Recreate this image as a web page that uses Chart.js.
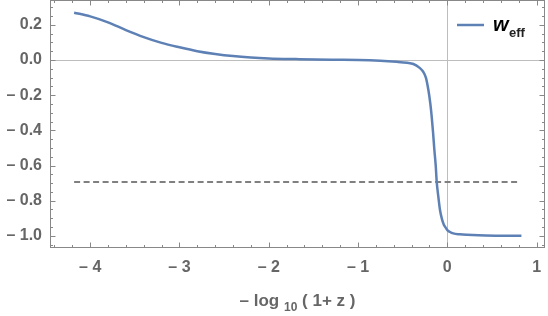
<!DOCTYPE html>
<html>
<head>
<meta charset="utf-8">
<script src="https://cdn.jsdelivr.net/npm/chart.js@4"></script>
<style>
html, body { margin: 0; padding: 0; background: #fff; }
#wrap { width: 548px; height: 316px; }
</style>
</head>
<body>
<div id="wrap"><canvas id="chart"></canvas></div>
<script>
// w_eff curve
const curveX = [-4.18, -4.0, -3.8, -3.6, -3.4, -3.2, -3.0, -2.8, -2.6, -2.4, -2.2, -2.0, -1.7, -1.3, -1.0,
    -0.75, -0.57, -0.45, -0.38, -0.31, -0.27, -0.24, -0.212, -0.19, -0.175, -0.16, -0.145, -0.13, -0.119,
    -0.1, -0.082, -0.06, -0.04, -0.026, 0.0, 0.03, 0.067, 0.14, 0.22, 0.35, 0.59, 0.83];
const curveY = [0.269, 0.248, 0.214, 0.17, 0.13, 0.097, 0.072, 0.05, 0.034, 0.022, 0.014, 0.009, 0.005, 0.001, 0.0,
    -0.004, -0.01, -0.016, -0.023, -0.045, -0.067, -0.1, -0.171, -0.25, -0.322, -0.41, -0.512, -0.6, -0.692,
    -0.78, -0.853, -0.905, -0.935, -0.948, -0.967, -0.978, -0.986, -0.991, -0.994, -0.997, -0.999, -1.0];

// dashed reference line
const refX = [-4.18, 0.8];
const refY = [-0.694, -0.694];

const xTickValues = [-4, -3, -2, -1, 0, 1];
const xTickLabels = ['– 4', '– 3', '– 2', '– 1', '0', '1'];
const yTickValues = [0.2, 0.0, -0.2, -0.4, -0.6, -0.8, -1.0];
const yTickLabels = ['0.2', '0.0', '– 0.2', '– 0.4', '– 0.6', '– 0.8', '– 1.0'];

const textColor = '#666666';
const frameColor = '#888888';
const lineColor = '#5E81B5';
const fontFamily = '"Liberation Sans", Arial, sans-serif';

function toPoints(xs, ys) {
    return xs.map((x, i) => ({ x: x, y: ys[i] }));
}

const framePlugin = {
    id: 'frame',
    beforeDatasetsDraw(chart) {
        const { ctx, chartArea: a, scales: { x, y } } = chart;
        ctx.save();
        ctx.strokeStyle = '#bdbdbd';
        ctx.lineWidth = 1;
        const x0 = Math.round(x.getPixelForValue(0)) + 0.5;
        const y0 = Math.round(y.getPixelForValue(0)) + 0.5;
        ctx.beginPath();
        ctx.moveTo(x0, a.top);
        ctx.lineTo(x0, a.bottom);
        ctx.moveTo(a.left, y0);
        ctx.lineTo(a.right, y0);
        ctx.stroke();
        ctx.restore();
    },
    afterDraw(chart) {
        const { ctx, chartArea: a, scales: { x, y } } = chart;
        ctx.save();
        ctx.strokeStyle = frameColor;
        ctx.lineWidth = 1;
        const L = Math.round(a.left) + 0.5, R = Math.round(a.right) - 0.5;
        const T = Math.round(a.top) + 0.5, B = Math.round(a.bottom) - 0.5;
        ctx.strokeRect(L, T, R - L, B - T);

        ctx.beginPath();
        // x ticks, major and minor, pointing in
        for (let i = -22; i <= 5; i++) {
            const v = i / 5;
            const len = (i % 5 === 0) ? 5 : 2.5;
            const px = Math.round(x.getPixelForValue(v)) + 0.5;
            if (px < L || px > R) continue;
            ctx.moveTo(px, B); ctx.lineTo(px, B - len);
            ctx.moveTo(px, T); ctx.lineTo(px, T + len);
        }
        // y ticks
        for (let i = -21; i <= 6; i++) {
            const v = i / 20;
            const len = (i % 4 === 0) ? 5 : 2.5;
            const py = Math.round(y.getPixelForValue(v)) + 0.5;
            if (py < T || py > B) continue;
            ctx.moveTo(L, py); ctx.lineTo(L + len, py);
            ctx.moveTo(R, py); ctx.lineTo(R - len, py);
        }
        ctx.stroke();

        // axis title with subscript
        ctx.fillStyle = textColor;
        ctx.textBaseline = 'alphabetic';
        ctx.textAlign = 'left';
        const big = 'bold 17px ' + fontFamily;
        const small = 'bold 12px ' + fontFamily;
        const parts = [['– log ', big, 0], ['10', small, 5], [' ( 1+ z )', big, 0]];
        let total = 0;
        parts.forEach(p => { ctx.font = p[1]; total += ctx.measureText(p[0]).width; });
        let cx = (a.left + a.right) / 2 - total / 2;
        const base = 306;
        parts.forEach(p => {
            ctx.font = p[1];
            ctx.fillText(p[0], cx, base + p[2]);
            cx += ctx.measureText(p[0]).width;
        });

        // legend
        ctx.strokeStyle = lineColor;
        ctx.lineWidth = 2.5;
        ctx.beginPath();
        ctx.moveTo(457, 25);
        ctx.lineTo(484, 25);
        ctx.stroke();
        ctx.fillStyle = '#000';
        ctx.font = 'italic bold 20px ' + fontFamily;
        ctx.fillText('w', 493, 31);
        ctx.fillStyle = '#222';
        ctx.font = 'bold 13px ' + fontFamily;
        ctx.fillText('eff', 509, 37);
        ctx.restore();
    }
};

new Chart(document.getElementById('chart'), {
    type: 'scatter',
    data: {
        datasets: [{
            label: 'w_eff',
            data: toPoints(curveX, curveY),
            showLine: true,
            borderColor: lineColor,
            borderWidth: 2.5,
            pointRadius: 0,
            cubicInterpolationMode: 'monotone',
            fill: false
        }, {
            label: 'reference',
            data: toPoints(refX, refY),
            showLine: true,
            borderColor: '#808080',
            borderWidth: 2,
            borderDash: [6, 3.5],
            pointRadius: 0,
            fill: false
        }]
    },
    options: {
        responsive: true,
        maintainAspectRatio: false,
        animation: false,
        layout: { padding: { top: 0, right: 3, left: 0, bottom: 0 } },
        plugins: {
            legend: { display: false },
            tooltip: { enabled: false }
        },
        scales: {
            x: {
                type: 'linear',
                min: -4.45,
                max: 1.094,
                grid: { display: false, drawTicks: false },
                border: { display: false },
                afterBuildTicks: function (scale) {
                    scale.ticks = xTickValues.map(v => ({ value: v }));
                },
                afterFit: function (scale) {
                    scale.height = 68;
                    scale.paddingLeft = 0;
                    scale.paddingRight = 0;
                },
                ticks: {
                    padding: 10,
                    color: textColor,
                    maxRotation: 0,
                    autoSkip: false,
                    font: { family: fontFamily, size: 16, weight: 'bold' },
                    callback: function (value, index) { return xTickLabels[index]; }
                }
            },
            y: {
                type: 'linear',
                min: -1.069,
                max: 0.341,
                grid: { display: false, drawTicks: false },
                border: { display: false },
                afterBuildTicks: function (scale) {
                    scale.ticks = yTickValues.map(v => ({ value: v }));
                },
                afterFit: function (scale) {
                    scale.width = 50;
                    scale.paddingTop = 0;
                    scale.paddingBottom = 0;
                },
                ticks: {
                    padding: 8,
                    color: textColor,
                    autoSkip: false,
                    font: { family: fontFamily, size: 16, weight: 'bold' },
                    callback: function (value, index) { return yTickLabels[index]; }
                }
            }
        }
    },
    plugins: [framePlugin]
});
</script>
</body>
</html>
